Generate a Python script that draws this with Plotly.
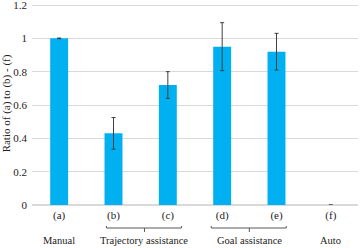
import plotly.graph_objects as go

categories = ["(a)", "(b)", "(c)", "(d)", "(e)", "(f)"]
ratios = [1.0, 0.43, 0.72, 0.95, 0.92, 0.0]
errors = [0.002, 0.095, 0.08, 0.144, 0.11, 0.0]
group_labels = ["Manual", "Trajectory assistance", "Goal assistance", "Auto"]
group_positions = [0, 1.57, 3.5, 5]
brackets = [(0.87, 2.25, 1.57), (2.80, 4.18, 3.5)]
tick_vals = [0, 0.2, 0.4, 0.6, 0.8, 1, 1.2]
tick_text = ["0", "0.2", "0.4", "0.6", "0.8", "1", "1.2"]

FONT = "Liberation Serif, Times New Roman, serif"
fig = go.Figure()
fig.add_trace(go.Bar(
    x=list(range(len(categories))), y=ratios,
    marker=dict(color="#00B0F0", line=dict(width=0)),
    error_y=dict(type="data", array=errors, visible=True,
                 color="#404040", thickness=1, width=2),
    width=0.33,
))

# plot area: 203 px tall, bottom at y=205
def py(p):
    return (205 - p) / 203.0

shapes = []
for x0, x1, xc in brackets:
    shapes.append(dict(type="path", xref="x", yref="paper",
                       path=f"M {x0} {py(226)} L {x0} {py(228)} L {x1} {py(228)} L {x1} {py(226)} M {xc} {py(228)} L {xc} {py(232)}",
                       line=dict(color="#595959", width=1)))

annotations = []
for lab, pos in zip(group_labels, group_positions):
    annotations.append(dict(x=pos, y=py(240), xref="x", yref="paper", text=lab,
                            showarrow=False, yanchor="middle",
                            font=dict(family=FONT, size=10.5, color="#222")))

fig.update_layout(
    width=360, height=248,
    margin=dict(l=32, r=2, t=2, b=43),
    paper_bgcolor="white", plot_bgcolor="white",
    showlegend=False,
    font=dict(family=FONT, size=11, color="#333"),
    shapes=shapes, annotations=annotations,
    xaxis=dict(tickmode="array", tickvals=list(range(len(categories))), ticktext=categories,
               range=[-0.5, 5.5], showgrid=False, zeroline=False, showline=False,
               ticks="", automargin=False, ticklabelstandoff=2,
               tickfont=dict(family=FONT, size=11, color="#222")),
    yaxis=dict(range=[0, 1.218], tickvals=tick_vals, ticktext=tick_text,
               showgrid=True, gridcolor="#d9d9d9", gridwidth=1, zeroline=True, zerolinecolor="#d9d9d9",
               showline=False, ticks="", ticklabelstandoff=4, automargin=False,
               ticklabeloverflow="allow",
               tickfont=dict(family=FONT, size=11, color="#222"),
               title=dict(text="Ratio of (a) to (b) - (f)", standoff=4,
                          font=dict(family=FONT, size=11, color="#222"))),
)
fig.write_html("out.html", config={"displayModeBar": False},
               post_script="document.body.style.margin='0';document.body.style.overflow='hidden';")
